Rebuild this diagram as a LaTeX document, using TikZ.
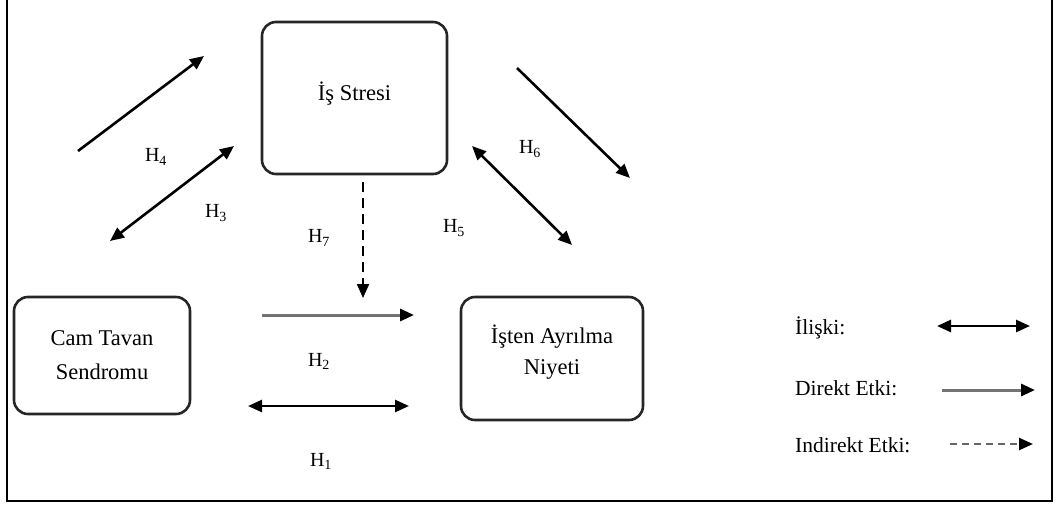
\documentclass[tikz,border=0pt]{standalone}
\usepackage{fontspec}
\setmainfont{Liberation Serif}
\usetikzlibrary{arrows.meta}
\begin{document}
\begin{tikzpicture}[x=1pt,y=-1pt,
  box/.style={draw=black!85,line width=2.6pt,rounded corners=14pt,inner sep=0pt},
  btext/.style={align=center,font=\fontsize{22.5}{34}\selectfont,inner sep=0pt},
  hlab/.style={font=\fontsize{20}{22}\selectfont,inner sep=0pt},
  legtext/.style={anchor=west,font=\fontsize{21.5}{24}\selectfont,inner sep=0pt},
  arr/.style={line width=2.6pt,-{Triangle[length=14pt,width=12pt,color=black]}},
  darr/.style={line width=2.6pt,{Triangle[length=14pt,width=12pt,color=black]}-{Triangle[length=14pt,width=12pt,color=black]}},
  grayarr/.style={line width=3pt,draw=black!55,-{Triangle[length=14pt,width=12pt,color=black]}},
  dasharr/.style={line width=2pt,dash pattern=on 10pt off 6pt,-{Triangle[length=14pt,width=12pt,color=black]}}
]
\useasboundingbox (0,0) rectangle (1056,504);
% frame
\draw[line width=2.2pt] (7,0) -- (7,501) -- (1052,501) -- (1052,0);

% boxes
\node[box,minimum width=185pt,minimum height=152pt] (stres) at (354.5,98) {};
\node[box,minimum width=176pt,minimum height=117pt] (cam) at (102,355.5) {};
\node[box,minimum width=182pt,minimum height=123pt] (ayr) at (552,358.5) {};
\node[btext] (stresT) at (354.5,94) {İş Stresi};
\node[btext] (camT) at (102,355) {Cam Tavan\\Sendromu};
\node[btext,font=\fontsize{22.5}{31}\selectfont] (ayrT) at (552,352) {İşten Ayrılma\\Niyeti};

% arrow end points
\coordinate (h4a) at (78,151);  \coordinate (h4b) at (204,56);
\coordinate (h3a) at (110,241); \coordinate (h3b) at (234,146);
\coordinate (h6a) at (517,68);  \coordinate (h6b) at (630,178);
\coordinate (h5a) at (472,146); \coordinate (h5b) at (572,245);
\coordinate (h7a) at (363,182); \coordinate (h7b) at (363,298);
\coordinate (h2a) at (262,315); \coordinate (h2b) at (414,315);
\coordinate (h1a) at (248,406); \coordinate (h1b) at (409,406);

\draw[arr] (h4a) -- (h4b);
\draw[darr] (h3a) -- (h3b);
\draw[arr] (h6a) -- (h6b);
\draw[darr] (h5a) -- (h5b);
\draw[dasharr] (h7a) -- (h7b);
\draw[grayarr] (h2a) -- (h2b);
\draw[darr] (h1a) -- (h1b);

% labels
\node[hlab] (l4) at (156,157) {H\textsubscript{4}};
\node[hlab] (l3) at (216,213) {H\textsubscript{3}};
\node[hlab] (l7) at (319,238) {H\textsubscript{7}};
\node[hlab] (l5) at (454,228) {H\textsubscript{5}};
\node[hlab] (l6) at (530,149) {H\textsubscript{6}};
\node[hlab] (l2) at (319,361) {H\textsubscript{2}};
\node[hlab] (l1) at (321,461) {H\textsubscript{1}};

% legend
\node[legtext] (g1) at (795,328) {İlişki:};
\node[legtext] (g2) at (795,388) {Direkt Etki:};
\node[legtext] (g3) at (795,445) {Indirekt Etki:};
\coordinate (g1a) at (937,326); \coordinate (g1b) at (1030,326);
\coordinate (g2a) at (942,390); \coordinate (g2b) at (1035,390);
\coordinate (g3a) at (950,444); \coordinate (g3b) at (1033,444);
\draw[darr] (g1a) -- (g1b);
\draw[grayarr] (g2a) -- (g2b);
\draw[line width=2.4pt,draw=black!60,dash pattern=on 7pt off 5pt,-{Triangle[length=14pt,width=12pt,color=black]}] (g3a) -- (g3b);
\end{tikzpicture}
\end{document}
